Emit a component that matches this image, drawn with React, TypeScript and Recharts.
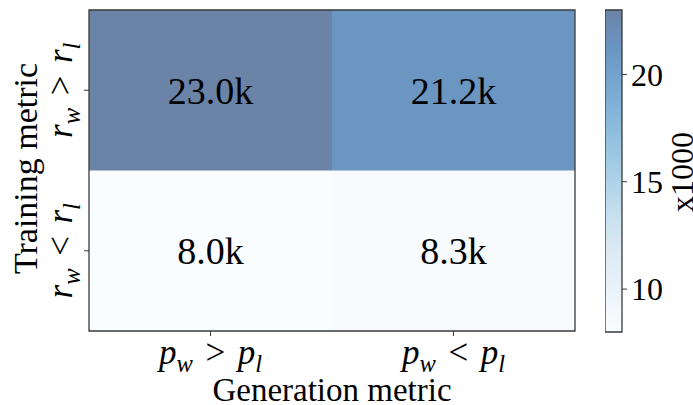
import React from "react";
import { ComposedChart, XAxis, YAxis, ReferenceArea } from "recharts";

// generation metric (columns, left → right) and training metric (rows, bottom → top)
const generationMetric = ["p_w > p_l", "p_w < p_l"];
const trainingMetric = ["r_w < r_l", "r_w > r_l"];

// pair counts in thousands
const countsTrainBelow = [8.0, 8.3]; // r_w < r_l row
const countsTrainAbove = [23.0, 21.2]; // r_w > r_l row

const colorbarTicks = [10, 15, 20];
const colorRange: [number, number] = [8.0, 23.0];

const FONT = '"Liberation Serif", "DejaVu Serif", serif';
const FRAME = "#3a3a3a";
const ALPHA = 0.6;

// matplotlib "Blues"
const BLUES = [
  [247, 251, 255],
  [222, 235, 247],
  [198, 219, 239],
  [158, 202, 225],
  [107, 174, 214],
  [66, 146, 198],
  [33, 113, 181],
  [8, 81, 156],
  [8, 48, 107],
];

function blues(t: number) {
  const c = Math.max(0, Math.min(1, t)) * (BLUES.length - 1);
  const i = Math.min(Math.floor(c), BLUES.length - 2);
  const f = c - i;
  const rgb = BLUES[i].map((v, k) => Math.round(v + (BLUES[i + 1][k] - v) * f));
  return `rgb(${rgb.join(",")})`;
}

const norm = (v: number) => (v - colorRange[0]) / (colorRange[1] - colorRange[0]);

const cells = [
  ...countsTrainBelow.map((v, i) => ({ col: i, row: 0, v })),
  ...countsTrainAbove.map((v, i) => ({ col: i, row: 1, v })),
];

const colorbarData = colorRange.map((v) => ({ t: 0.5, v }));

function MathText({ expr, x, y, fontSize, rotate }: any) {
  const parts = expr.split(" ");
  const shift = fontSize * 0.22;
  const gap = fontSize * 0.36;
  const spans: any[] = [];
  let pending = 0;
  parts.forEach((p: string, i: number) => {
    const dx = i > 0 ? gap : 0;
    if (p.includes("_")) {
      const [base, sub] = p.split("_");
      spans.push(
        <tspan key={i + "b"} fontStyle="italic" dx={dx} dy={pending}>
          {base}
        </tspan>
      );
      spans.push(
        <tspan key={i + "s"} fontStyle="italic" fontSize={fontSize * 0.7} dy={shift}>
          {sub}
        </tspan>
      );
      pending = -shift;
    } else {
      spans.push(
        <tspan key={i} dx={dx} dy={pending}>
          {p}
        </tspan>
      );
      pending = 0;
    }
  });
  return (
    <text
      x={x}
      y={y}
      textAnchor="middle"
      fontSize={fontSize}
      fontFamily={FONT}
      fill="#000"
      transform={rotate ? `rotate(-90, ${x}, ${y})` : undefined}
    >
      {spans}
    </text>
  );
}

function XTick(props: any) {
  const idx = Math.round(props.payload.value - 0.5);
  return <MathText expr={generationMetric[idx]} x={props.x} y={364} fontSize={35} />;
}

function YTick(props: any) {
  const idx = Math.round(props.payload.value - 0.5);
  return <MathText expr={trainingMetric[idx]} x={72} y={props.y} fontSize={35} rotate />;
}

function XTitle(props: any) {
  const vb = props.viewBox;
  return (
    <text x={vb.x + vb.width / 2} y={401} textAnchor="middle" fontSize={33} fontFamily={FONT} fill="#000">
      Generation metric
    </text>
  );
}

function YTitle(props: any) {
  const vb = props.viewBox;
  const cy = vb.y + vb.height / 2 - 2;
  return (
    <text
      x={37}
      y={cy}
      textAnchor="middle"
      fontSize={34}
      fontFamily={FONT}
      fill="#000"
      transform={`rotate(-90, 37, ${cy})`}
    >
      Training metric
    </text>
  );
}

function CbTitle(props: any) {
  const vb = props.viewBox;
  const cy = vb.y + vb.height / 2 + 1;
  return (
    <text
      x={88}
      y={cy}
      textAnchor="middle"
      fontSize={32}
      fontFamily={FONT}
      fill="#000"
      transform={`rotate(-90, 88, ${cy})`}
    >
      x1000
    </text>
  );
}

export default function App() {
  return (
    <div style={{ position: "absolute", left: 0, top: 0, width: 693, height: 405, background: "#fff", fontFamily: FONT }}>
      <div style={{ position: "absolute", left: 0, top: 0 }}>
        <ComposedChart width={693} height={405} data={cells} margin={{ top: 10, right: 118, bottom: 0, left: 0 }}>
          <XAxis
            type="number"
            dataKey="col"
            domain={[0, 2]}
            ticks={[0.5, 1.5]}
            axisLine={false}
            tickLine={{ stroke: FRAME }}
            tickSize={5}
            height={74}
            tick={<XTick />}
            label={<XTitle />}
          />
          <YAxis
            type="number"
            dataKey="row"
            domain={[0, 2]}
            ticks={[0.5, 1.5]}
            axisLine={false}
            tickLine={{ stroke: FRAME }}
            tickSize={5}
            width={89}
            tick={<YTick />}
            label={<YTitle />}
          />
          {cells.map((c) => (
            <ReferenceArea
              key={`${c.col}-${c.row}`}
              x1={c.col}
              x2={c.col + 1}
              y1={c.row}
              y2={c.row + 1}
              fill={blues(norm(c.v))}
              fillOpacity={ALPHA}
              stroke="none"
              label={{
                value: `${c.v.toFixed(1)}k`,
                position: "center",
                fontSize: 38,
                fill: "#000",
                fontFamily: FONT,
              }}
            />
          ))}
          <ReferenceArea x1={0} x2={2} y1={0} y2={2} fill="none" fillOpacity={0} stroke={FRAME} strokeWidth={1.3} />
        </ComposedChart>
      </div>
      <div style={{ position: "absolute", left: 605, top: 0 }}>
        <ComposedChart width={88} height={405} data={colorbarData} margin={{ top: 10, right: 0, bottom: 73, left: 0 }}>
          <defs>
            <linearGradient id="cbGrad" x1="0" y1="1" x2="0" y2="0">
              {BLUES.map((_, i) => (
                <stop
                  key={i}
                  offset={i / (BLUES.length - 1)}
                  stopColor={blues(i / (BLUES.length - 1))}
                  stopOpacity={ALPHA}
                />
              ))}
            </linearGradient>
          </defs>
          <XAxis type="number" dataKey="t" domain={[0, 1]} hide />
          <YAxis
            orientation="right"
            type="number"
            dataKey="v"
            domain={colorRange}
            ticks={colorbarTicks}
            axisLine={false}
            tickLine={{ stroke: FRAME }}
            tickSize={5}
            tickMargin={4}
            width={71}
            tick={{ fontSize: 32, fill: "#000", fontFamily: FONT }}
            label={<CbTitle />}
          />
          <ReferenceArea
            x1={0}
            x2={1}
            y1={colorRange[0]}
            y2={colorRange[1]}
            fill="url(#cbGrad)"
            fillOpacity={1}
            stroke={FRAME}
            strokeWidth={1.3}
          />
        </ComposedChart>
      </div>
    </div>
  );
}
